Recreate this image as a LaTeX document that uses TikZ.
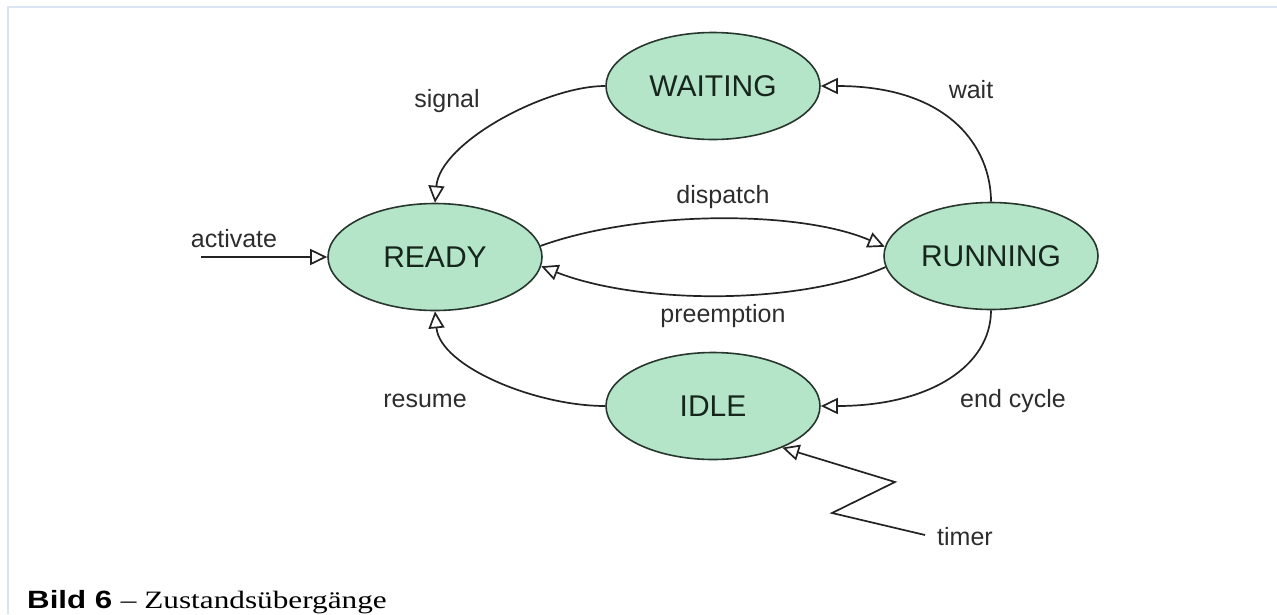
\documentclass[tikz,border=0pt]{standalone}
\usepackage{fontspec}
\setmainfont{Liberation Sans}
\newfontfamily\captionserif{Liberation Serif}
\usetikzlibrary{arrows.meta,shapes.geometric}
\definecolor{statefill}{RGB}{180,229,200}
\definecolor{stateline}{RGB}{40,55,46}
\definecolor{statetext}{RGB}{22,38,28}
\definecolor{edgeline}{RGB}{35,35,35}
\definecolor{labeltext}{RGB}{45,45,45}
\definecolor{framecol}{RGB}{218,228,242}

\begin{document}
\begin{tikzpicture}[x=1pt,y=-1pt,
  state/.style={ellipse, draw=stateline, fill=statefill, line width=1.6pt,
    minimum width=214pt, minimum height=107pt, inner sep=0pt,
    font=\fontsize{30}{36}\selectfont, text=statetext},
  trans/.style={draw=edgeline, line width=1.7pt,
    -{Triangle[length=17pt,width=16pt,fill=white]}},
  lbl/.style={font=\fontsize{25}{30}\selectfont, text=labeltext,
    inner sep=0pt, anchor=base}
]
\useasboundingbox (0,0) rectangle (1277,614);

% page frame
\draw[framecol, line width=2.5pt] (8,614) -- (8,7) -- (1277,7);

% states
\node[state] (W) at (713,86)  {WAITING};
\node[state] (R) at (435,257) {READY};
\node[state] (U) at (991,256) {RUNNING};
\node[state] (I) at (713,406) {IDLE};

% free ends of the external transitions
\coordinate (actstart) at (201,257);
\coordinate (timerend) at (925,535);
\coordinate (tk1) at (832,513);
\coordinate (tk2) at (895,482);

% transitions
\draw[trans] (W.west) .. controls +(-60,0) and +(5,-60) .. (R.north);
\draw[trans] (U.north) .. controls +(0,-53) and +(130,0) .. (W.east);
\draw[trans] (R.6) .. controls (640,210) and (800,210) .. (U.175);
\draw[trans] (U.186) .. controls (800,305) and (640,305) .. (R.-5);
\draw[trans] (U.south) .. controls +(0,55) and +(110,0) .. (I.east);
\draw[trans] (I.west) .. controls +(-70,0) and +(5,55) .. (R.south);
\draw[trans] (actstart) -- (R.west);
\draw[trans] (timerend) -- (tk1) -- (tk2) -- (I.-31);

% transition labels
\node[lbl] (lsignal)   at (447,107)  {signal};
\node[lbl] (lwait)     at (971,98)   {wait};
\node[lbl] (ldispatch) at (723,203)  {dispatch};
\node[lbl] (lpreempt)  at (723,322)  {preemption};
\node[lbl] (lactivate) at (234,247)  {activate};
\node[lbl] (lresume)   at (425,407)  {resume};
\node[lbl] (lendcycle) at (1013,407) {end cycle};
\node[lbl] (ltimer)    at (965,545)  {timer};

% caption
\node[anchor=base west, inner sep=0pt] (caption) at (27,608)
  {\scalebox{1.25}[1]{\fontsize{25}{30}\selectfont\bfseries Bild 6
   {\captionserif\mdseries – Zustandsübergänge}}};
\end{tikzpicture}
\end{document}
